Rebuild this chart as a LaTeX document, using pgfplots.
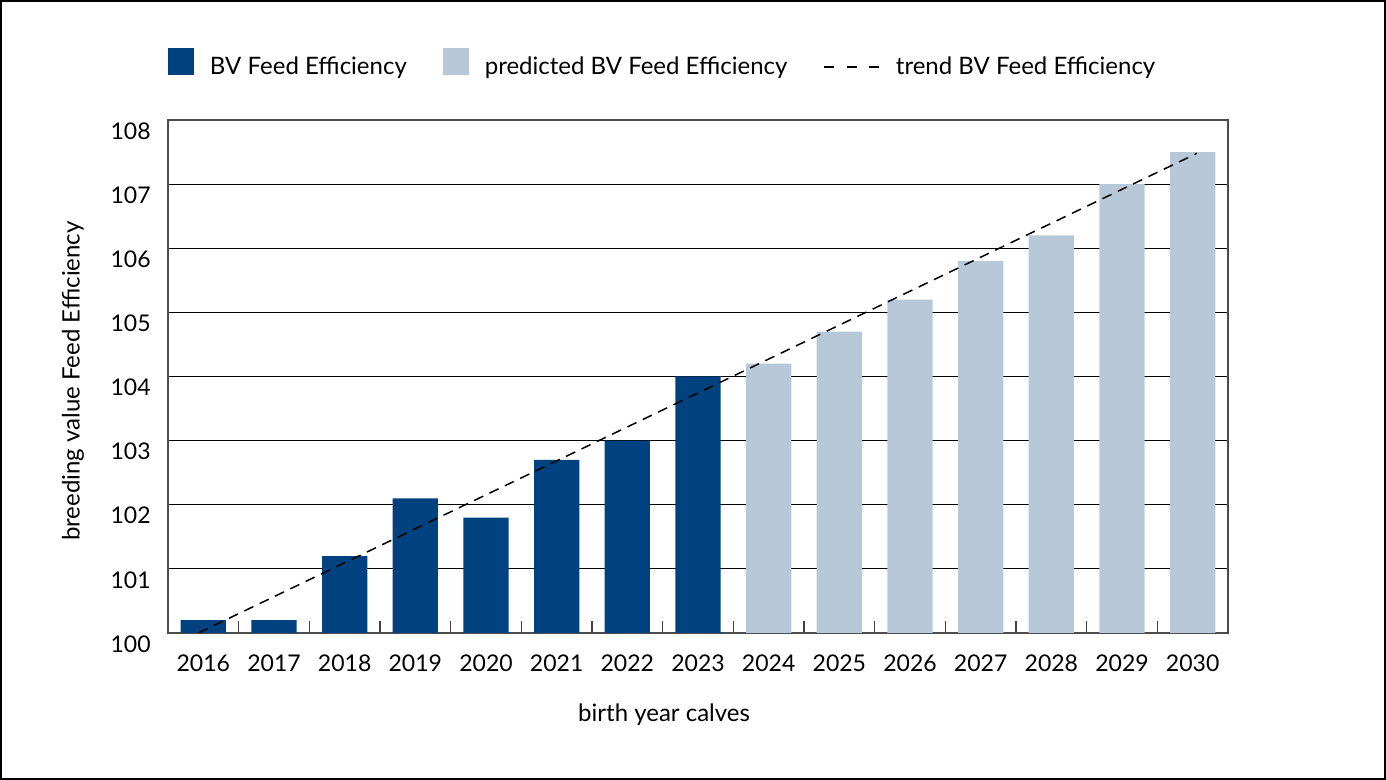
\documentclass[border=0pt]{standalone}
\usepackage{pgfplots}
\pgfplotsset{compat=1.18}
\usepackage{fontspec}
\setmainfont{Lato}
\definecolor{bvdark}{RGB}{0,66,127}
\definecolor{bvlight}{RGB}{183,201,217}
\begin{document}
\fontsize{12}{14}\selectfont
\begin{tikzpicture}
\draw[line width=1pt] (0.5pt,0.5pt) rectangle (692.5pt,389.5pt);
\begin{axis}[
  at={(84pt,73.5pt)}, anchor=south west,
  scale only axis, width=530pt, height=256.5pt,
  font=\fontsize{12}{14}\selectfont,
  tick label style={font=\fontsize{11.5}{13}\selectfont},
  /pgf/number format/assume math mode=true,
  xmin=-0.5, xmax=14.5, ymin=100, ymax=108,
  xtick={0,...,14},
  xticklabels={2016,2017,2018,2019,2020,2021,2022,2023,2024,2025,2026,2027,2028,2029,2030},
  minor xtick={-0.5,0.5,...,14.5},
  xtick pos=bottom,
  ytick={100,...,108},
  yticklabel style={/pgf/number format/1000 sep={}, xshift=-4.5pt, yshift=-5.5pt},
  xticklabel style={yshift=-6.5pt},
  major tick length=0pt,
  minor tick length=6pt,
  tick align=inside,
  minor tick style={black!75, line width=0.6pt},
  ymajorgrids=true,
  major grid style={black, line width=0.55pt},
  axis line style={black!70, line width=0.6pt},
  xlabel={birth year calves},
  ylabel={breeding value Feed Efficiency},
  xlabel style={at={(axis description cs:0.468,-0.16)}, anchor=center},
  ylabel style={at={(axis description cs:-0.0896,0.491)}, anchor=center},
  legend columns=3,
  legend style={at={(0,1)}, anchor=west, yshift=27.5pt, xshift=0pt,
    draw=none, fill=none, inner sep=0pt, outer sep=0pt,
    font=\fontsize{12}{14}\selectfont,
    /tikz/every odd column/.append style={column sep=6pt},
    /tikz/every even column/.append style={column sep=16pt}},
]
\addplot[ybar, bar shift=0pt, bar width=22.6pt, fill=bvdark, draw=none,
  legend image code/.code={\fill[bvdark] (0pt,-4pt) rectangle (13pt,9.5pt);}]
  coordinates {(0,100.2) (1,100.2) (2,101.2) (3,102.1) (4,101.8) (5,102.7) (6,103.0) (7,104.0)};
\addlegendentry{BV Feed Efficiency}
\addplot[ybar, bar shift=0pt, bar width=22.6pt, fill=bvlight, draw=none,
  legend image code/.code={\fill[bvlight] (0pt,-4pt) rectangle (13pt,9.5pt);}]
  coordinates {(8,104.2) (9,104.7) (10,105.2) (11,105.8) (12,106.2) (13,107.0) (14,107.5)};
\addlegendentry{predicted BV Feed Efficiency}
\addplot[black, line width=0.75pt, dash pattern=on 5pt off 3.5pt,
  legend image code/.code={\draw[black, line width=0.75pt, dash pattern=on 5pt off 6.25pt] (0pt,0pt) -- (27.5pt,0pt);}]
  coordinates {(-0.07,100.0) (14.06,107.48)};
\addlegendentry{trend BV Feed Efficiency}
\end{axis}
\end{tikzpicture}
\end{document}
